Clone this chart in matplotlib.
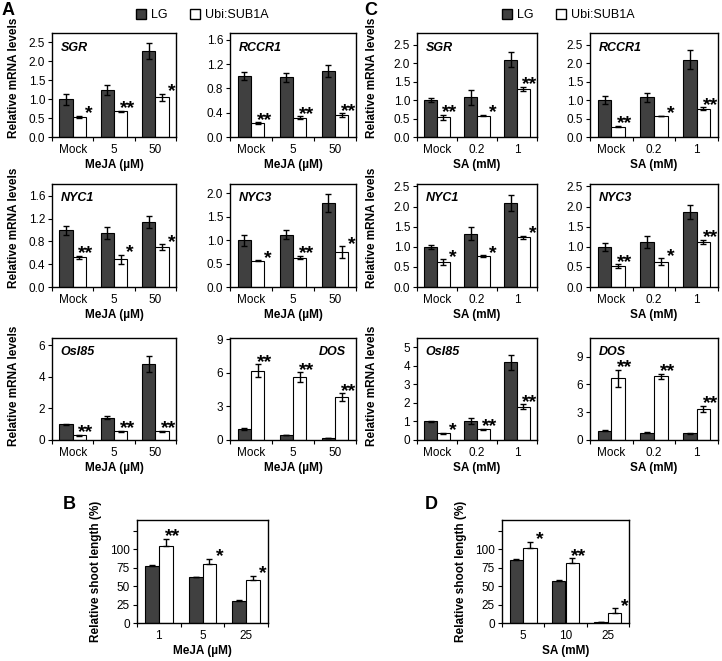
import matplotlib
matplotlib.use("Agg")
import matplotlib.pyplot as plt
from matplotlib.patches import Patch

plt.rcParams['font.family'] = ['Liberation Sans', 'DejaVu Sans']

W, H = 722, 661
DARK = '#404040'

meja_doses = ['Mock', '5', '50']
sa_doses = ['Mock', '0.2', '1']

# ---- panel A (MeJA) ----
a_sgr_lg, a_sgr_lg_err = [1.00, 1.25, 2.28], [0.15, 0.13, 0.21]
a_sgr_sub, a_sgr_sub_err = [0.53, 0.68, 1.05], [0.03, 0.02, 0.10]
a_sgr_sig = ['*', '**', '*']

a_rccr1_lg, a_rccr1_lg_err = [1.00, 0.98, 1.08], [0.07, 0.08, 0.10]
a_rccr1_sub, a_rccr1_sub_err = [0.23, 0.32, 0.36], [0.01, 0.02, 0.03]
a_rccr1_sig = ['**', '**', '**']

a_nyc1_lg, a_nyc1_lg_err = [1.00, 0.95, 1.14], [0.08, 0.10, 0.11]
a_nyc1_sub, a_nyc1_sub_err = [0.52, 0.49, 0.70], [0.03, 0.08, 0.05]
a_nyc1_sig = ['**', '*', '*']

a_nyc3_lg, a_nyc3_lg_err = [1.00, 1.12, 1.79], [0.12, 0.10, 0.19]
a_nyc3_sub, a_nyc3_sub_err = [0.56, 0.63, 0.75], [0.01, 0.03, 0.12]
a_nyc3_sig = ['*', '**', '*']

a_osi85_lg, a_osi85_lg_err = [1.00, 1.42, 4.82], [0.03, 0.10, 0.50]
a_osi85_sub, a_osi85_sub_err = [0.30, 0.55, 0.55], [0.02, 0.05, 0.05]
a_osi85_sig = ['**', '**', '**']

a_dos_lg, a_dos_lg_err = [1.00, 0.45, 0.20], [0.08, 0.03, 0.02]
a_dos_sub, a_dos_sub_err = [6.20, 5.60, 3.80], [0.55, 0.45, 0.35]
a_dos_sig = ['**', '**', '**']

# ---- panel C (SA) ----
c_sgr_lg, c_sgr_lg_err = [1.00, 1.08, 2.10], [0.05, 0.20, 0.20]
c_sgr_sub, c_sgr_sub_err = [0.53, 0.58, 1.31], [0.08, 0.02, 0.05]
c_sgr_sig = ['**', '*', '**']

c_rccr1_lg, c_rccr1_lg_err = [1.00, 1.08, 2.10], [0.10, 0.12, 0.25]
c_rccr1_sub, c_rccr1_sub_err = [0.28, 0.57, 0.76], [0.02, 0.01, 0.04]
c_rccr1_sig = ['**', '*', '**']

c_nyc1_lg, c_nyc1_lg_err = [1.00, 1.32, 2.08], [0.05, 0.16, 0.20]
c_nyc1_sub, c_nyc1_sub_err = [0.62, 0.77, 1.24], [0.07, 0.02, 0.04]
c_nyc1_sig = ['*', '*', '*']

c_nyc3_lg, c_nyc3_lg_err = [1.00, 1.12, 1.86], [0.10, 0.15, 0.18]
c_nyc3_sub, c_nyc3_sub_err = [0.52, 0.63, 1.13], [0.04, 0.08, 0.05]
c_nyc3_sig = ['**', '*', '**']

c_osi85_lg, c_osi85_lg_err = [1.00, 1.02, 4.18], [0.03, 0.15, 0.42]
c_osi85_sub, c_osi85_sub_err = [0.37, 0.57, 1.80], [0.03, 0.03, 0.12]
c_osi85_sig = ['*', '**', '**']

c_dos_lg, c_dos_lg_err = [1.00, 0.80, 0.75], [0.05, 0.05, 0.05]
c_dos_sub, c_dos_sub_err = [6.65, 6.85, 3.35], [0.90, 0.30, 0.30]
c_dos_sig = ['**', '**', '**']

# ---- panels B and D (shoot length) ----
b_doses = ['1', '5', '25']
b_lg, b_lg_err = [78, 62, 30], [1.5, 1.0, 1.0]
b_sub, b_sub_err = [104, 80, 59], [10, 7, 5]
b_sig = ['**', '*', '*']

d_doses = ['5', '10', '25']
d_lg, d_lg_err = [85, 57, 1], [2, 2, 1]
d_sub, d_sub_err = [102, 81, 14], [8, 7, 6]
d_sig = ['*', '**', '*']

fig = plt.figure(figsize=(W / 100, H / 100), dpi=100)


def add_ax(l, t, r, b):
    return fig.add_axes([l / W, 1 - b / H, (r - l) / W, (b - t) / H])


def draw(ax, cats, lg, lg_err, sub, sub_err, sig, ylim, yticks, ylabels,
         gene=None, gene_right=False, plus_only=False, xlabel=''):
    x = range(len(cats))
    w = 0.32
    xl = [i - w / 2 for i in x]
    xs = [i + w / 2 for i in x]
    ekw = dict(ecolor='black', elinewidth=1, capsize=2.5, capthick=1)
    if plus_only:
        lg_e = [[0] * len(lg), lg_err]
        sub_e = [[0] * len(sub), sub_err]
    else:
        lg_e, sub_e = lg_err, sub_err
    ax.bar(xl, lg, w, color=DARK, edgecolor='black', linewidth=0.8,
           yerr=lg_e, error_kw=ekw, zorder=2)
    ax.bar(xs, sub, w, color='white', edgecolor='black', linewidth=0.8,
           yerr=sub_e, error_kw=ekw, zorder=2)
    for i, s in enumerate(sig):
        top = sub[i] + sub_err[i]
        xo = i + w + (0.07 if s == '*' else 0.0)
        ax.annotate(s, (xo, top), xytext=(0, 1.5),
                    textcoords='offset points', ha='center', va='center',
                    fontsize=14, fontweight='bold')
    ax.set_xlim(-0.5, len(cats) - 0.5)
    ax.set_ylim(*ylim)
    ax.set_yticks(yticks)
    ax.set_yticklabels(ylabels)
    ax.set_xticks([i - 0.5 for i in range(len(cats) + 1)])
    ax.set_xticklabels([])
    ax.set_xticks(list(x), minor=True)
    ax.set_xticklabels(cats, minor=True)
    ax.tick_params(axis='x', which='major', length=3, direction='out', width=0.8)
    ax.tick_params(axis='x', which='minor', length=0, pad=5, labelsize=8.5)
    ax.tick_params(axis='y', length=3, direction='out', width=0.8, labelsize=8.5, pad=2)
    for sp in ax.spines.values():
        sp.set_linewidth(1)
    if gene:
        if gene_right:
            ax.text(0.92, 0.86, gene, transform=ax.transAxes, ha='right', va='center',
                    fontsize=9, fontweight='bold', fontstyle='italic')
        else:
            ax.text(0.07, 0.86, gene, transform=ax.transAxes, ha='left', va='center',
                    fontsize=9, fontweight='bold', fontstyle='italic')
    if xlabel:
        ax.set_xlabel(xlabel, fontsize=8.5, fontweight='bold', labelpad=2)


def fmt(ticks, f):
    return [f % t for t in ticks]


rows = [(33, 137), (184, 287), (338, 440)]
a_cols = [(52, 176), (230, 356)]
c_cols = [(417, 537), (590, 718)]

t05 = [0, 0.5, 1.0, 1.5, 2.0, 2.5]
t04 = [0, 0.4, 0.8, 1.2, 1.6]
t2 = [0, 2, 4, 6]
t3 = [0, 3, 6, 9]
t1 = [0, 1, 2, 3, 4, 5]

a_specs = [
    ('SGR', a_sgr_lg, a_sgr_lg_err, a_sgr_sub, a_sgr_sub_err, a_sgr_sig, (0, 2.75), t05, '%.1f', False),
    ('RCCR1', a_rccr1_lg, a_rccr1_lg_err, a_rccr1_sub, a_rccr1_sub_err, a_rccr1_sig, (0, 1.71), t04, '%.1f', False),
    ('NYC1', a_nyc1_lg, a_nyc1_lg_err, a_nyc1_sub, a_nyc1_sub_err, a_nyc1_sig, (0, 1.81), t04, '%.1f', False),
    ('NYC3', a_nyc3_lg, a_nyc3_lg_err, a_nyc3_sub, a_nyc3_sub_err, a_nyc3_sig, (0, 2.2), [0, 0.5, 1.0, 1.5, 2.0], '%.1f', False),
    ('OsI85', a_osi85_lg, a_osi85_lg_err, a_osi85_sub, a_osi85_sub_err, a_osi85_sig, (0, 6.47), t2, '%d', False),
    ('DOS', a_dos_lg, a_dos_lg_err, a_dos_sub, a_dos_sub_err, a_dos_sig, (0, 9.1), t3, '%d', True),
]
c_specs = [
    ('SGR', c_sgr_lg, c_sgr_lg_err, c_sgr_sub, c_sgr_sub_err, c_sgr_sig, (0, 2.82), t05, '%.1f', False),
    ('RCCR1', c_rccr1_lg, c_rccr1_lg_err, c_rccr1_sub, c_rccr1_sub_err, c_rccr1_sig, (0, 2.82), t05, '%.1f', False),
    ('NYC1', c_nyc1_lg, c_nyc1_lg_err, c_nyc1_sub, c_nyc1_sub_err, c_nyc1_sig, (0, 2.56), t05, '%.1f', False),
    ('NYC3', c_nyc3_lg, c_nyc3_lg_err, c_nyc3_sub, c_nyc3_sub_err, c_nyc3_sig, (0, 2.56), t05, '%.1f', False),
    ('OsI85', c_osi85_lg, c_osi85_lg_err, c_osi85_sub, c_osi85_sub_err, c_osi85_sig, (0, 5.5), t1, '%d', False),
    ('DOS', c_dos_lg, c_dos_lg_err, c_dos_sub, c_dos_sub_err, c_dos_sig, (0, 11), t3, '%d', False),
]

for specs, cols, cats, xlab in [(a_specs, a_cols, meja_doses, 'MeJA (\u00b5M)'),
                                 (c_specs, c_cols, sa_doses, 'SA (mM)')]:
    for k, sp in enumerate(specs):
        gene, lg, lge, sub, sube, sig, ylim, yt, f, gright = sp
        r, c = divmod(k, 2)
        l, rr = cols[c]
        t, b = rows[r]
        ax = add_ax(l, t, rr, b)
        draw(ax, cats, lg, lge, sub, sube, sig, ylim, yt, fmt(yt, f),
             gene=gene, gene_right=gright, xlabel=xlab)

# y labels for mRNA rows
for xc in (14, 372):
    for yc in (78, 228, 386):
        fig.text(xc / W, 1 - yc / H, 'Relative mRNA levels', rotation=90,
                 ha='center', va='center', fontsize=8.5, fontweight='bold')

# shoot length panels
yb = [0, 25, 50, 75, 100, 125]
ybl = ['0', '25', '50', '75', '100', '']
ax_b = add_ax(137, 520, 268, 623)
draw(ax_b, b_doses, b_lg, b_lg_err, b_sub, b_sub_err, b_sig, (0, 140), yb, ybl,
     plus_only=True, xlabel='MeJA (\u00b5M)')
ax_d = add_ax(502, 520, 629, 623)
draw(ax_d, d_doses, d_lg, d_lg_err, d_sub, d_sub_err, d_sig, (0, 140), yb, ybl,
     plus_only=True, xlabel='SA (mM)')
for xc in (96, 461):
    fig.text(xc / W, 1 - 571 / H, 'Relative shoot length (%)', rotation=90,
             ha='center', va='center', fontsize=8.5, fontweight='bold')

# panel letters
for s, xp, yp in [('A', 2, 2), ('C', 364, 2), ('B', 63, 496), ('D', 425, 496)]:
    fig.text(xp / W, 1 - yp / H, s, ha='left', va='top', fontsize=13, fontweight='bold')

# legends
handles = [Patch(facecolor=DARK, edgecolor='black', label='LG'),
           Patch(facecolor='white', edgecolor='black', label='Ubi:SUB1A')]
for xc in (202, 568):
    fig.legend(handles=handles, loc='center', bbox_to_anchor=(xc / W, 1 - 15 / H),
               ncol=2, frameon=False, fontsize=9, handlelength=0.8, handleheight=0.8,
               handletextpad=0.4, columnspacing=1.8, borderpad=0)

fig.savefig('out.png', dpi=100)
